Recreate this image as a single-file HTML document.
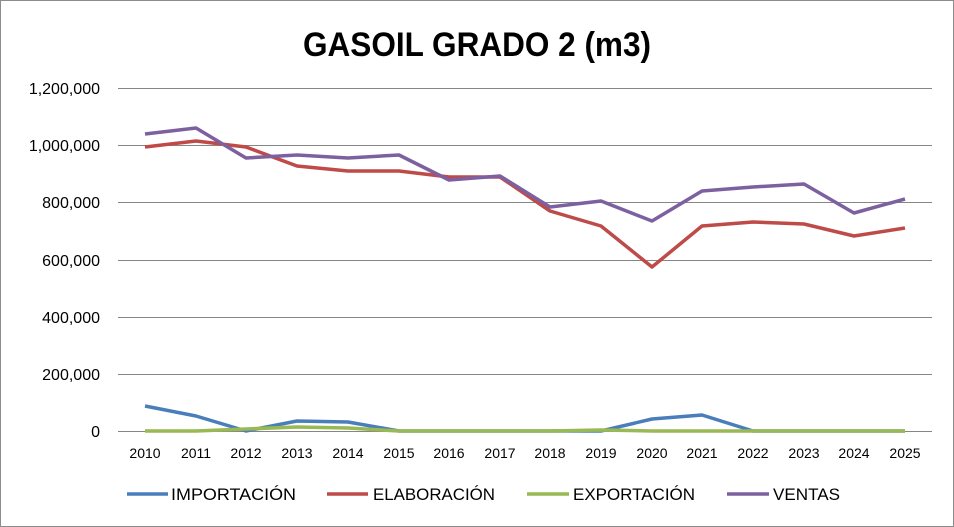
<!DOCTYPE html>
<html><head><style>
body{margin:0;background:#fff;}
svg{display:block;font-family:"Liberation Sans",Arial,sans-serif;}
</style></head><body>
<svg width="954" height="527" viewBox="0 0 954 527">
<rect x="0.5" y="0.5" width="953" height="526" fill="#fff" stroke="#8c8c8c"/>
<text x="303" y="56" font-size="34" font-weight="bold" textLength="348" lengthAdjust="spacingAndGlyphs">GASOIL GRADO 2 (m3)</text>
<g stroke="#868686" stroke-width="1">
<line x1="118" y1="88.5" x2="932" y2="88.5"/>
<line x1="118" y1="145.5" x2="932" y2="145.5"/>
<line x1="118" y1="202.5" x2="932" y2="202.5"/>
<line x1="118" y1="260.5" x2="932" y2="260.5"/>
<line x1="118" y1="317.5" x2="932" y2="317.5"/>
<line x1="118" y1="374.5" x2="932" y2="374.5"/>
<line x1="118" y1="431.5" x2="932" y2="431.5"/>
</g>
<g font-size="16" text-anchor="end" fill="#000">
<text x="100" y="94">1,200,000</text>
<text x="100" y="151">1,000,000</text>
<text x="100" y="208">800,000</text>
<text x="100" y="266">600,000</text>
<text x="100" y="323">400,000</text>
<text x="100" y="380">200,000</text>
<text x="100" y="437">0</text>
</g>
<g font-size="14" text-anchor="middle">
<text x="145" y="458">2010</text><text x="196" y="458">2011</text><text x="246" y="458">2012</text><text x="297" y="458">2013</text><text x="348" y="458">2014</text><text x="399" y="458">2015</text><text x="449" y="458">2016</text><text x="500" y="458">2017</text><text x="550" y="458">2018</text><text x="601" y="458">2019</text><text x="652" y="458">2020</text><text x="702" y="458">2021</text><text x="753" y="458">2022</text><text x="804" y="458">2023</text><text x="854" y="458">2024</text><text x="905" y="458">2025</text>
</g>
<g fill="none" stroke-width="3.5" stroke-linejoin="round">
<polyline stroke="#4a7ebb" points="145,406 196,416 246,431 297,421 348,422 399,431 449,431 500,431 550,431 601,431 652,419 702,415 753,431 804,431 854,431 905,431"/>
<polyline stroke="#be4b48" points="145,147 196,141 246,147 297,166 348,171 399,171 449,177 500,177 550,211 601,226 652,267 702,226 753,222 804,224 854,236 905,228"/>
<polyline stroke="#98b954" points="145,431 196,431 246,429 297,427 348,428 399,431 449,431 500,431 550,431 601,430 652,431 702,431 753,431 804,431 854,431 905,431"/>
<polyline stroke="#7d60a0" points="145,134 196,128 246,158 297,155 348,158 399,155 449,180 500,176 550,207 601,201 652,221 702,191 753,187 804,184 854,213 905,199"/>
</g>
<g stroke-width="3.5">
<line x1="127" y1="494" x2="168" y2="494" stroke="#4a7ebb"/>
<line x1="327" y1="494" x2="368" y2="494" stroke="#be4b48"/>
<line x1="527" y1="494" x2="569" y2="494" stroke="#98b954"/>
<line x1="727" y1="494" x2="769" y2="494" stroke="#7d60a0"/>
</g>
<g font-size="17" lengthAdjust="spacingAndGlyphs">
<text x="171" y="500" textLength="125" lengthAdjust="spacingAndGlyphs">IMPORTACIÓN</text>
<text x="373" y="500" textLength="122" lengthAdjust="spacingAndGlyphs">ELABORACIÓN</text>
<text x="573" y="500" textLength="122" lengthAdjust="spacingAndGlyphs">EXPORTACIÓN</text>
<text x="773" y="500" textLength="67" lengthAdjust="spacingAndGlyphs">VENTAS</text>
</g>
</svg>
</body></html>
